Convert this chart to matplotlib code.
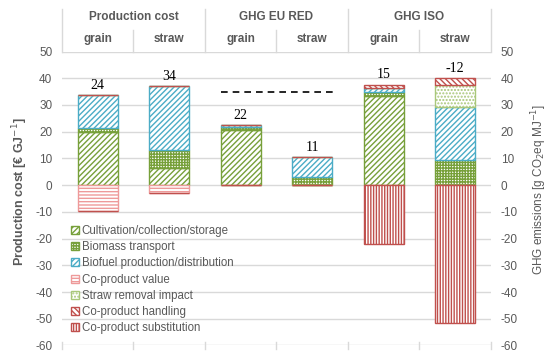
import matplotlib
matplotlib.use("Agg")
import matplotlib.pyplot as plt
import matplotlib.transforms as mtransforms
from matplotlib.patches import Patch
import numpy as np

# ---- data ----
groups = ["Production cost", "GHG EU RED", "GHG ISO"]
subcats = ["grain", "straw", "grain", "straw", "grain", "straw"]
components = ["Cultivation/collection/storage", "Biomass transport",
              "Biofuel production/distribution", "Co-product value",
              "Straw removal impact", "Co-product handling",
              "Co-product substitution"]
cultivation = [19.9, 6.5, 20.8, 0.0, 33.4, 0.0]
transport = [1.5, 6.8, 1.0, 3.1, 1.5, 9.6]
biofuel = [12.2, 23.7, 0.7, 7.5, 1.4, 19.7]
coproduct_value = [-9.6, -3.1, 0.0, 0.0, 0.0, 0.0]
straw_removal = [0.0, 0.0, 0.0, 0.0, 0.0, 8.1]
coproduct_handling = [0.0, 0.0, 0.0, 0.0, 1.3, 2.7]
coproduct_substitution = [0.0, 0.0, 0.0, 0.0, -22.2, -51.7]
net_labels = ["24", "34", "22", "11", "15", "-12"]
threshold = 35.0
yticks = list(range(-60, 51, 10))

# ---- styles ----
GREEN = "#77A03A"
LGREEN = "#A9C77A"
BLUE = "#4BACC6"
PINK = "#EE9A9A"
DRED = "#C0504D"
GRAY = "#595959"
GRID = "#D9D9D9"
plt.rcParams["hatch.linewidth"] = 1.0
plt.rcParams["axes.unicode_minus"] = False
plt.rcParams["font.family"] = ["Liberation Sans", "DejaVu Sans"]

styles = [
    (GREEN, "//////"),
    (GREEN, "++++++"),
    (BLUE, "//////"),
    (PINK, "-----"),
    (LGREEN, "....."),
    (DRED, "\\\\\\\\\\\\"),
    (DRED, "||||||"),
]
pos_series = [cultivation, transport, biofuel, straw_removal, coproduct_handling]
pos_idx = [0, 1, 2, 4, 5]
neg_series = [coproduct_value, coproduct_substitution]
neg_idx = [3, 6]

fig = plt.figure(figsize=(5.5, 3.55), dpi=100)
ax = fig.add_axes([0.1127, 0.0268, 0.78, 0.828])
x = np.arange(len(subcats))
w = 0.56

bottom = np.zeros(len(x))
for ser, i in zip(pos_series, pos_idx):
    col, h = styles[i]
    v = np.array(ser)
    ax.bar(x, v, w, bottom=bottom, facecolor="white", edgecolor=col,
           hatch=h, linewidth=1.0, zorder=3)
    bottom = bottom + v
tops = bottom.copy()
nb = np.zeros(len(x))
for ser, i in zip(neg_series, neg_idx):
    col, h = styles[i]
    v = np.array(ser)
    ax.bar(x, v, w, bottom=nb, facecolor="white", edgecolor=col,
           hatch=h, linewidth=1.0, zorder=3)
    nb = nb + v

for xi, t, lab in zip(x, tops, net_labels):
    ax.text(xi, t + 1.2, lab, ha="center", va="bottom",
            family=["Liberation Serif"], fontsize=10, color="black", zorder=4)

ax.plot([1.72, 3.32], [threshold, threshold], ls=(0, (4, 3)), color="black",
        lw=1.2, zorder=4)

ax.set_xlim(-0.5, 5.5)
ax.set_ylim(-60, 50)
ax.set_yticks(yticks)
ax.set_xticks([])
for s in ax.spines.values():
    s.set_visible(False)
ax.tick_params(axis="y", length=0, labelsize=8.5, labelcolor=GRAY, pad=7)
for yv in yticks:
    ax.axhline(yv, color=GRID, lw=1.0, zorder=1)
ax.set_ylabel("Production cost [€ GJ$^{-1}$]", fontsize=9, fontweight="bold",
              color=GRAY, labelpad=4)
ax.yaxis.label.set_y(0.525)

ax2 = ax.twinx()
ax2.set_ylim(-60, 50)
ax2.set_yticks(yticks)
for s in ax2.spines.values():
    s.set_visible(False)
ax2.tick_params(axis="y", length=0, labelsize=8.5, labelcolor=GRAY, pad=7)
ax2.set_ylabel("GHG emissions [g CO$_2$eq MJ$^{-1}$]", fontsize=8.5,
               color=GRAY, labelpad=8)
ax2.yaxis.label.set_y(0.53)

# header table
trans = mtransforms.blended_transform_factory(ax.transData, ax.transAxes)
bounds = np.arange(-0.5, 6.0, 1.0)
for k, b in enumerate(bounds):
    if k % 2 == 0:
        ax.plot([b, b], [1.0, 1.145], color=GRID, lw=1.0, transform=trans, clip_on=False)
    else:
        ax.plot([b, b], [1.0, 1.073], color=GRID, lw=1.0, transform=trans, clip_on=False)
    ax.plot([b, b], [-0.012, 0.012], color=GRID, lw=1.0, transform=trans, clip_on=False)
for g, name in enumerate(groups):
    ax.text(2 * g + 0.5, 1.116, name, ha="center", va="center", transform=trans,
            fontsize=8.5, fontweight="bold", color=GRAY)
for xi, name in zip(x, subcats):
    ax.text(xi, 1.043, name, ha="center", va="center", transform=trans,
            fontsize=8.5, fontweight="bold", color=GRAY)

handles = [Patch(facecolor="white", edgecolor=c, hatch=h, linewidth=1.0)
           for c, h in styles]
leg = ax.legend(handles, components, loc="lower left",
                bbox_to_anchor=(0.018, 0.035), frameon=False, fontsize=8.3,
                handlelength=0.7, handleheight=0.7, handletextpad=0.25,
                labelspacing=0.36, borderpad=0.1, borderaxespad=0.0)
for t in leg.get_texts():
    t.set_color(GRAY)
leg.set_zorder(5)

fig.savefig("out.png", dpi=100)
